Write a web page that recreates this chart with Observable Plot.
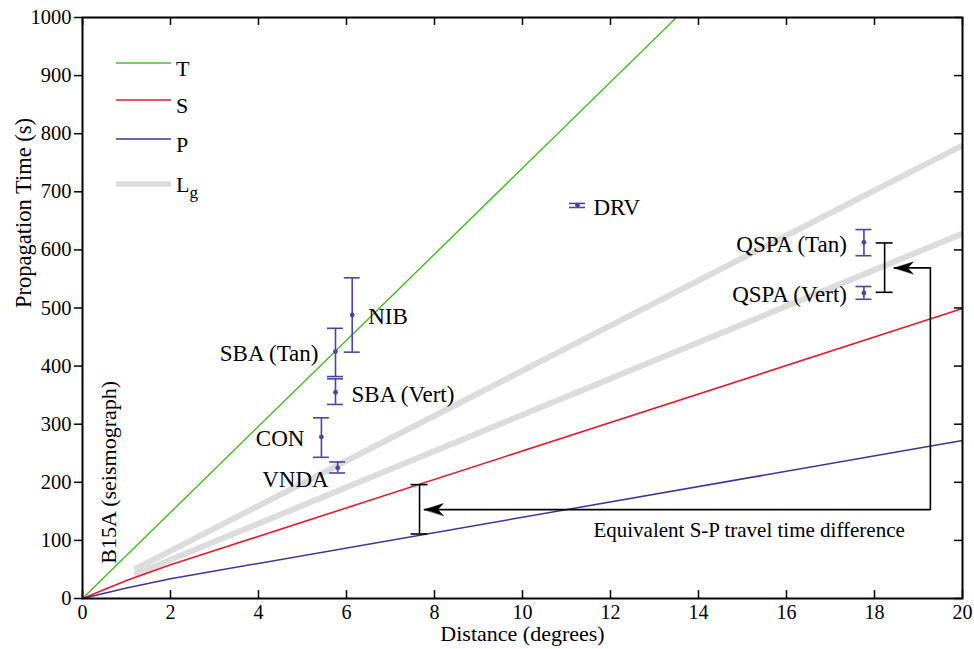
<!DOCTYPE html>
<html><head><meta charset="utf-8">
<script src="https://cdn.jsdelivr.net/npm/d3@7"></script>
<script src="https://cdn.jsdelivr.net/npm/@observablehq/plot@0.6"></script>
<style>
body{margin:0;background:#fff;}
#wrap{position:relative;width:974px;height:649px;}
#legend{position:absolute;left:0;top:0;pointer-events:none;}
</style></head><body><div id="wrap"></div>
<script>
// Travel-time curves (distance in degrees, time in seconds)
const tDist = [0, 13.5];
const tTime = [0, 1000];
const sDist = [0, 1, 2, 20];
const sTime = [0, 31, 58, 499];
const pDist = [0, 1, 2, 20];
const pTime = [0, 18, 34, 272];
const lgUpperDist = [1.18, 20];
const lgUpperTime = [50, 780];
const lgLowerDist = [1.18, 20];
const lgLowerTime = [41, 628];

// Observed arrivals
const stations = ["NIB", "SBA (Tan)", "SBA (Vert)", "CON", "VNDA", "DRV", "QSPA (Tan)", "QSPA (Vert)"];
const stationDist = [6.13, 5.75, 5.75, 5.43, 5.80, 11.25, 17.76, 17.76];
const stationTime = [488, 425, 355, 278, 225, 677, 613, 526];
const stationLow  = [424, 382, 334, 243, 216, 673, 590, 515];
const stationHigh = [552, 465, 378, 311, 235, 680, 635, 537];
const labelSide = ["right", "left", "right", "left", "below", "right", "left", "left"];

// Equivalent S-P difference bars and connector
const spDist = [7.66, 18.23];
const spLow = [111, 527];
const spHigh = [196, 612];
const arrowDist = [18.45, 19.27, 19.27, 7.77];
const arrowTime = [569, 569, 153, 153];

const xTicks = [0, 2, 4, 6, 8, 10, 12, 14, 16, 18, 20];
const yTicks = [0, 100, 200, 300, 400, 500, 600, 700, 800, 900, 1000];

const W = 974, H = 649, mL = 82, mR = 12, mT = 17, mB = 51;
const innerW = W - mL - mR, innerH = H - mT - mB, tickLen = 8;

const toRows = (xs, ys) => xs.map((x, i) => ({x, y: ys[i]}));
const stationRows = stations.map((name, i) => ({name, x: stationDist[i], y: stationTime[i], lo: stationLow[i], hi: stationHigh[i], side: labelSide[i]}));
const spRows = spDist.map((x, i) => ({x, lo: spLow[i], hi: spHigh[i]}));
const arrowRows = toRows(arrowDist, arrowTime);
const headRows = [arrowRows[0], arrowRows[arrowRows.length - 1]];

const ebColor = "#4a45a0";
const headShape = {draw(ctx, l) { ctx.moveTo(0, -l); ctx.lineTo(6, 0); ctx.lineTo(0, -l * 0.3); ctx.lineTo(-6, 0); ctx.closePath(); }};
const fmt = d => String(d);

const plot = Plot.plot({
  width: W, height: H,
  marginLeft: mL, marginRight: mR, marginTop: mT, marginBottom: mB,
  style: {fontFamily: "'Liberation Serif', 'Times New Roman', serif", fontSize: "20.5px", color: "black", background: "white"},
  x: {domain: [0, 20], label: null},
  y: {domain: [0, 1000], label: null},
  marks: [
    Plot.line(toRows(lgUpperDist, lgUpperTime), {x: "x", y: "y", stroke: "#dcdcdc", strokeWidth: 6, strokeLinecap: "butt"}),
    Plot.line(toRows(lgLowerDist, lgLowerTime), {x: "x", y: "y", stroke: "#dcdcdc", strokeWidth: 6, strokeLinecap: "butt"}),
    Plot.line(toRows(tDist, tTime), {x: "x", y: "y", stroke: "#4cbb2e", strokeWidth: 1.5}),
    Plot.line(toRows(sDist, sTime), {x: "x", y: "y", stroke: "#e6192e", strokeWidth: 1.6}),
    Plot.line(toRows(pDist, pTime), {x: "x", y: "y", stroke: "#3c3593", strokeWidth: 1.5}),
    // station error bars
    Plot.ruleX(stationRows, {x: "x", y1: "lo", y2: "hi", stroke: ebColor, strokeWidth: 1.6}),
    Plot.ruleY(stationRows, {y: "lo", x1: "x", x2: "x", insetLeft: -8, insetRight: -8, stroke: ebColor, strokeWidth: 1.6}),
    Plot.ruleY(stationRows, {y: "hi", x1: "x", x2: "x", insetLeft: -8, insetRight: -8, stroke: ebColor, strokeWidth: 1.6}),
    Plot.dot(stationRows, {x: "x", y: "y", r: 2.4, fill: ebColor}),
    Plot.text(stationRows.filter(d => d.side === "right"), {x: "x", y: "y", text: "name", textAnchor: "start", dx: 16, dy: 2, fontSize: 23}),
    Plot.text(stationRows.filter(d => d.side === "left"), {x: "x", y: "y", text: "name", textAnchor: "end", dx: -17, dy: 2, fontSize: 23}),
    Plot.text(stationRows.filter(d => d.side === "below"), {x: "x", y: "y", text: "name", textAnchor: "end", dx: -9, dy: 12, fontSize: 23}),
    // S-P difference bars
    Plot.ruleX(spRows, {x: "x", y1: "lo", y2: "hi", stroke: "black", strokeWidth: 1.6}),
    Plot.ruleY(spRows, {y: "lo", x1: "x", x2: "x", insetLeft: -8.5, insetRight: -8.5, stroke: "black", strokeWidth: 1.6}),
    Plot.ruleY(spRows, {y: "hi", x1: "x", x2: "x", insetLeft: -8.5, insetRight: -8.5, stroke: "black", strokeWidth: 1.6}),
    Plot.line(arrowRows, {x: "x", y: "y", stroke: "black", strokeWidth: 1.6}),
    Plot.vector(headRows, {x: "x", y: "y", rotate: -90, length: 19, anchor: "end", shape: headShape, fill: "black", stroke: "black", strokeWidth: 0.5}),
    Plot.text(["Equivalent S-P travel time difference"], {x: () => 15.15, y: () => 117, textAnchor: "middle", fontSize: 21}),
    Plot.text(["B15A (seismograph)"], {x: () => 0.6, y: () => 60, rotate: -90, textAnchor: "start", fontSize: 22}),
    // frame and axes (inward ticks on bottom, top and right; outward on left)
    Plot.ruleX(xTicks, {x: d => d, insetTop: innerH - tickLen, stroke: "black", strokeWidth: 1.5}),
    Plot.ruleX(xTicks, {x: d => d, insetBottom: innerH - tickLen, stroke: "black", strokeWidth: 1.5}),
    Plot.ruleY(yTicks, {y: d => d, insetLeft: innerW - tickLen, stroke: "black", strokeWidth: 1.5}),
    Plot.frame({stroke: "black", strokeWidth: 2}),
    Plot.axisX(xTicks, {anchor: "bottom", tickSize: 0, tickPadding: 6, tickFormat: fmt, label: null, fontSize: 20}),
    Plot.axisY(yTicks, {anchor: "left", tickSize: 8, tickPadding: 3, tickFormat: fmt, label: null, strokeWidth: 1.5}),
    Plot.text(["Propagation Time (s)"], {frameAnchor: "left", dx: -59, rotate: -90, fontSize: 22.5}),
    Plot.text(["Distance (degrees)"], {frameAnchor: "bottom", dy: 42, fontSize: 22})
  ]
});
const wrap = document.getElementById("wrap");
wrap.appendChild(plot);

// Legend (overlay)
const legendItems = [
  {name: "T", color: "#4cbb2e", w: 1.5},
  {name: "S", color: "#e6192e", w: 1.6},
  {name: "P", color: "#3c3593", w: 1.5},
  {name: "L", sub: "g", color: "#dcdcdc", w: 5.5}
];
const legendY = [63, 100, 139, 184];
const lg = d3.select(wrap).append("svg").attr("id", "legend").attr("width", W).attr("height", H)
  .style("font-family", "'Liberation Serif', 'Times New Roman', serif").style("font-size", "22px");
legendItems.forEach((d, i) => {
  const y = legendY[i];
  lg.append("line").attr("x1", 116).attr("x2", 171).attr("y1", y).attr("y2", y).attr("stroke", d.color).attr("stroke-width", d.w);
  const t = lg.append("text").attr("x", 176).attr("y", d.sub ? y + 8 : y + 13).text(d.name);
  if (d.sub) t.append("tspan").attr("dy", 6).style("font-size", "17px").text(d.sub);
});
</script></body></html>
